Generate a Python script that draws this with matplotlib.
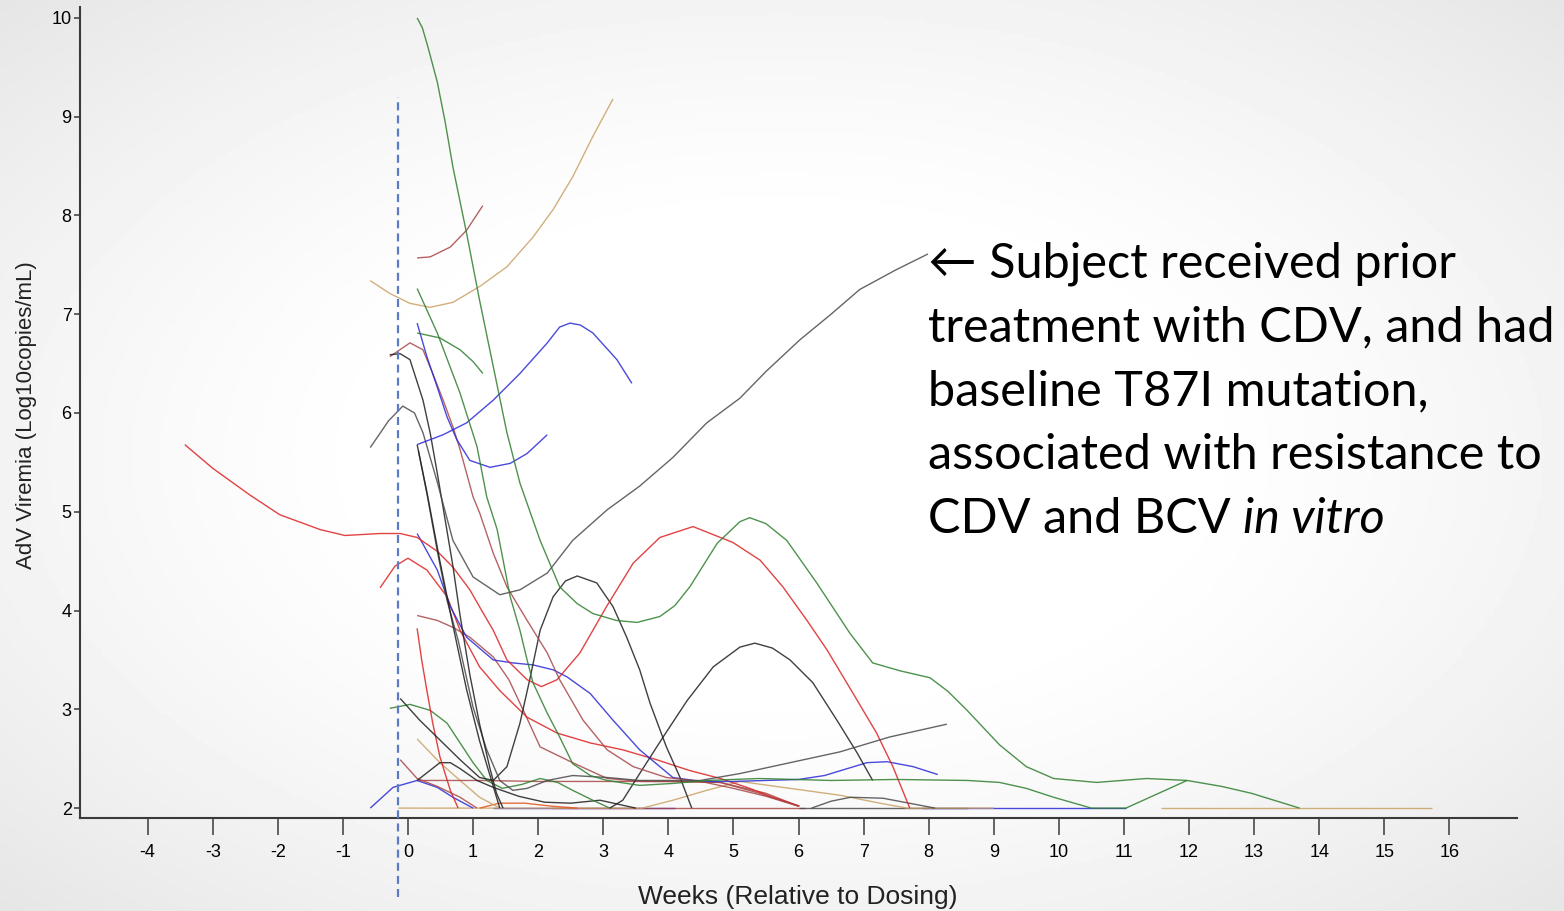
import numpy as np
import matplotlib.pyplot as plt

plt.rcParams.update({'font.family': ['Liberation Sans', 'DejaVu Sans'],
                     'axes.unicode_minus': False})

# line colours (SAS default palette, a bit faded by the thin antialiased lines)
GREEN = '#2f7f2f'
RED = '#dd2222'
BLUE = '#2a2ad6'
BLACK = '#1e1e1e'
GRAY = '#4a4a4a'
BROWN = '#a84848'
TAN = '#c9a266'
ORANGE = '#e0561c'

# viral load per subject: weeks relative to dosing / log10 copies/mL
wk01 = [0.14, 0.22, 0.3, 0.45, 0.57, 0.69, 0.9, 1.1, 1.31, 1.52, 1.72, 2.03, 2.33, 2.6, 2.84, 3.2, 3.52, 3.87, 4.1,
        4.33, 4.75, 5.1, 5.25, 5.5, 5.82, 6.28, 6.79, 7.14, 7.56, 8.02, 8.3, 8.59, 9.09, 9.5, 9.92, 10.58,
        11.35, 11.97, 12.5, 12.96, 13.7]
vl01 = [10.0, 9.9, 9.72, 9.35, 8.95, 8.49, 7.82, 7.14, 6.47, 5.8, 5.29, 4.71, 4.24, 4.07, 3.97, 3.9, 3.88, 3.94, 4.05,
        4.24, 4.68, 4.9, 4.94, 4.88, 4.71, 4.28, 3.77, 3.47, 3.39, 3.32, 3.18, 2.99, 2.64, 2.42, 2.3, 2.26,
        2.3, 2.28, 2.22, 2.15, 2.0]

wk02 = [0.14, 0.45, 0.8, 1.06, 1.21, 1.37, 1.57, 1.72, 1.83, 1.92, 2.14, 2.33, 2.53, 2.8, 3.06, 3.56, 4.07,
        4.59, 5.4, 6.5, 7.5, 8.6, 9.09, 9.5, 9.92, 10.5, 11.03, 11.5, 11.97]
vl02 = [7.26, 6.81, 6.2, 5.66, 5.15, 4.82, 4.14, 3.8, 3.5, 3.27, 2.96, 2.72, 2.45, 2.33, 2.28, 2.23, 2.25,
        2.28, 2.3, 2.28, 2.29, 2.28, 2.26, 2.2, 2.11, 2.0, 2.0, 2.14, 2.28]

wk03 = [0.14, 0.49, 0.8, 1.0, 1.15]
vl03 = [6.81, 6.76, 6.64, 6.52, 6.4]

wk04 = [-0.28, 0.03, 0.34, 0.6, 0.8, 1.0, 1.21, 1.45, 1.75, 2.03, 2.3, 2.53, 2.84, 3.1]
vl04 = [3.01, 3.05, 2.99, 2.86, 2.66, 2.46, 2.28, 2.2, 2.24, 2.3, 2.26, 2.18, 2.08, 2.0]

wk05 = [0.14, 0.34, 0.65, 0.9, 1.15]
vl05 = [7.57, 7.58, 7.68, 7.85, 8.1]

wk06 = [-0.58, -0.28, 0.03, 0.34, 0.69, 1.1, 1.52, 1.92, 2.23, 2.53, 2.84, 3.15]
vl06 = [7.34, 7.21, 7.11, 7.07, 7.12, 7.28, 7.48, 7.78, 8.06, 8.39, 8.8, 9.18]

wk07 = [0.14, 0.29, 0.45, 0.6, 0.75, 0.95, 1.26, 1.57, 1.83, 2.14]
vl07 = [6.91, 6.57, 6.26, 5.96, 5.73, 5.52, 5.45, 5.49, 5.59, 5.78]

wk08 = [0.14, 0.54, 0.9, 1.31, 1.72, 2.14, 2.33, 2.49, 2.65, 2.84, 3.21, 3.44]
vl08 = [5.68, 5.78, 5.9, 6.13, 6.4, 6.71, 6.87, 6.91, 6.89, 6.81, 6.54, 6.3]

wk09 = [-0.28, -0.12, 0.03, 0.23, 0.34, 0.45, 0.55, 0.69, 0.8, 0.95, 1.1, 1.26, 1.36, 1.46]
vl09 = [6.59, 6.6, 6.54, 6.13, 5.8, 5.39, 5.0, 4.45, 3.95, 3.35, 2.85, 2.4, 2.15, 2.0]

# subject with prior CDV treatment (T87I)
wk10 = [-0.58, -0.3, -0.08, 0.1, 0.23, 0.45, 0.69, 1.0, 1.41, 1.72, 2.14, 2.53, 3.06, 3.56, 4.07, 4.59,
        5.1, 5.5, 6.02, 6.5, 6.94, 7.5, 7.99]
vl10 = [5.65, 5.92, 6.07, 6.0, 5.8, 5.3, 4.71, 4.34, 4.16, 4.21, 4.38, 4.71, 5.02, 5.26, 5.55, 5.9,
        6.15, 6.42, 6.74, 7.0, 7.25, 7.45, 7.61]

wk11 = [0.14, 0.29, 0.49, 0.69, 0.9, 1.1, 1.26, 1.41]
vl11 = [5.68, 5.2, 4.5, 3.85, 3.2, 2.68, 2.33, 2.0]

wk12 = [0.16, 0.3, 0.45, 0.6, 0.77, 1.0, 1.21, 1.41, 1.61, 1.83, 2.14, 2.53, 3.06, 3.56, 4.49, 5.1, 5.87,
        6.64, 7.4, 8.28]
vl12 = [5.62, 5.15, 4.6, 4.1, 3.7, 3.02, 2.59, 2.28, 2.18, 2.2, 2.28, 2.33, 2.31, 2.28, 2.28, 2.35, 2.46,
        2.57, 2.72, 2.85]

wk13 = [-0.28, 0.03, 0.23, 0.38, 0.54, 0.69, 0.8, 0.9, 1.0, 1.1, 1.31, 1.52, 1.83, 2.14, 2.33, 2.69, 3.06,
        3.46, 3.97, 4.5, 5.0, 5.5, 6.0]
vl13 = [6.57, 6.71, 6.64, 6.4, 6.13, 5.86, 5.63, 5.39, 5.15, 4.99, 4.58, 4.24, 3.9, 3.57, 3.3, 2.89, 2.59,
        2.42, 2.31, 2.27, 2.2, 2.12, 2.02]

wk14 = [-3.43, -3.0, -2.43, -1.97, -1.35, -0.97, -0.43, -0.12, 0.14, 0.45, 0.69, 0.95, 1.15, 1.31, 1.52,
        1.83, 2.05, 2.29, 2.64, 3.05, 3.46, 3.87, 4.38, 4.99, 5.41, 5.76, 6.13, 6.44, 6.84, 7.2, 7.45, 7.71]
vl14 = [5.68, 5.44, 5.17, 4.97, 4.82, 4.76, 4.78, 4.78, 4.74, 4.6, 4.44, 4.21, 3.98, 3.8, 3.5,
        3.3, 3.23, 3.3, 3.57, 4.04, 4.48, 4.74, 4.85, 4.69, 4.51, 4.24, 3.9, 3.6, 3.16, 2.76, 2.42, 2.0]

wk15 = [-0.43, -0.2, 0.0, 0.29, 0.6, 0.8, 1.1, 1.41, 1.83, 2.29, 2.8, 3.3, 3.82, 4.33, 4.8, 5.25, 5.6, 6.02]
vl15 = [4.23, 4.45, 4.53, 4.41, 4.14, 3.8, 3.43, 3.19, 2.92, 2.76, 2.66, 2.59, 2.49, 2.38, 2.3, 2.2, 2.11, 2.02]

wk16 = [0.14, 0.45, 0.65, 0.9, 1.31, 1.61, 1.92, 2.23, 2.44, 2.8, 3.15, 3.56, 4.07, 4.5, 5.0, 5.5, 6.0,
        6.4, 6.75, 7.05, 7.36, 7.76, 8.14]
vl16 = [4.78, 4.41, 4.04, 3.73, 3.5, 3.47, 3.45, 3.4, 3.33, 3.16, 2.89, 2.59, 2.31, 2.27, 2.27, 2.28, 2.29,
        2.33, 2.4, 2.46, 2.47, 2.42, 2.34]

wk17 = [0.14, 0.45, 0.69, 0.95, 1.31, 1.55, 1.8, 2.03, 2.53, 3.06, 3.6, 4.2, 4.8, 5.4, 6.0]
vl17 = [3.95, 3.9, 3.83, 3.73, 3.53, 3.3, 2.95, 2.62, 2.46, 2.3, 2.27, 2.27, 2.26, 2.15, 2.02]

wk18 = [0.14, 0.21, 0.29, 0.38, 0.49, 0.65, 0.77]
vl18 = [3.82, 3.5, 3.19, 2.86, 2.52, 2.18, 2.0]

wk19 = [-0.12, 0.18, 0.49, 0.8, 1.1, 1.31, 1.52, 1.72, 1.87, 2.03, 2.23, 2.42, 2.6, 2.9, 3.15, 3.36, 3.56, 3.72,
        3.97, 4.18, 4.36]
vl19 = [3.11, 2.89, 2.69, 2.49, 2.31, 2.28, 2.42, 2.86, 3.3, 3.8, 4.14, 4.3, 4.35, 4.28, 4.04, 3.73, 3.4, 3.06,
        2.62, 2.31, 2.0]

wk20 = [3.1, 3.3, 3.56, 3.92, 4.29, 4.69, 5.1, 5.33, 5.6, 5.87, 6.22, 6.59, 6.9, 7.14]
vl20 = [2.0, 2.08, 2.35, 2.72, 3.09, 3.43, 3.63, 3.67, 3.62, 3.5, 3.27, 2.89, 2.56, 2.28]

wk21 = [6.2, 6.5, 6.8, 7.3, 7.7, 8.1]
vl21 = [2.0, 2.07, 2.11, 2.1, 2.05, 2.0]

wk22 = [0.14, 0.49, 0.8, 1.1, 1.41]
vl22 = [2.7, 2.46, 2.28, 2.11, 2.0]

wk23 = [-0.15, 1.0, 2.0, 3.0, 3.6, 4.07, 4.59, 5.1, 5.87, 6.64, 7.25, 7.67, 8.5, 9.0]
vl23 = [2.0, 2.0, 2.0, 2.0, 2.0, 2.08, 2.18, 2.27, 2.2, 2.13, 2.05, 2.0, 2.0, 2.0]

wk24 = [-0.12, 0.14, 0.45, 0.8, 1.06]
vl24 = [2.49, 2.3, 2.22, 2.11, 2.0]

wk25 = [0.14, 1.1, 2.0, 3.0, 4.0, 4.8, 5.5, 6.0]
vl25 = [2.28, 2.28, 2.27, 2.27, 2.27, 2.26, 2.15, 2.02]

wk26 = [-0.58, -0.23, 0.14, 0.45, 0.69, 1.0]
vl26 = [2.0, 2.21, 2.28, 2.21, 2.11, 2.0]

wk27 = [0.14, 0.49, 0.65, 0.8, 1.06, 1.31, 1.7, 2.1, 2.5, 2.95, 3.5]
vl27 = [2.28, 2.46, 2.46, 2.4, 2.28, 2.21, 2.12, 2.06, 2.05, 2.08, 2.0]

wk28 = [1.1, 1.4, 1.8, 2.2, 2.6]
vl28 = [2.0, 2.05, 2.05, 2.02, 2.0]

# subjects sitting at the lower limit (2.0) for a stretch
wk29 = [1.3, 4.1]
vl29 = [2.0, 2.0]
wk30 = [2.2, 6.1]
vl30 = [2.0, 2.0]
wk31 = [7.9, 11.03]
vl31 = [2.0, 2.0]
wk32 = [6.0, 8.6]
vl32 = [2.0, 2.0]
wk33 = [11.57, 15.73]
vl33 = [2.0, 2.0]

subjects = [
    (wk29, vl29, BLUE), (wk30, vl30, BROWN), (wk31, vl31, BLUE), (wk32, vl32, GRAY), (wk33, vl33, TAN),
    (wk23, vl23, TAN), (wk28, vl28, ORANGE), (wk26, vl26, BLUE), (wk24, vl24, BROWN), (wk22, vl22, TAN),
    (wk25, vl25, BROWN), (wk27, vl27, BLACK), (wk21, vl21, GRAY), (wk04, vl04, GREEN), (wk18, vl18, RED),
    (wk17, vl17, BROWN), (wk15, vl15, RED), (wk16, vl16, BLUE), (wk19, vl19, BLACK), (wk20, vl20, BLACK),
    (wk14, vl14, RED), (wk13, vl13, BROWN), (wk12, vl12, GRAY), (wk11, vl11, BLACK), (wk09, vl09, BLACK),
    (wk10, vl10, GRAY), (wk08, vl08, BLUE), (wk07, vl07, BLUE), (wk06, vl06, TAN), (wk05, vl05, BROWN),
    (wk03, vl03, GREEN), (wk02, vl02, GREEN), (wk01, vl01, GREEN),
]

dosing_week = -0.15
xticks = list(range(-4, 17))
yticks = list(range(2, 11))

fig = plt.figure(figsize=(15.64, 9.11), dpi=100)

# soft slide background: white in the middle, light grey towards the edges
bg = fig.add_axes([0, 0, 1, 1], zorder=-10)
gx, gy = np.meshgrid(np.linspace(-1, 1, 400), np.linspace(-1, 1, 240))
r = np.sqrt(gx ** 2 + gy ** 2) / np.sqrt(2)
shade = 1 - 0.10 * np.clip((r - 0.35) / 0.65, 0, 1) ** 1.3
bg.imshow(shade, cmap='gray', vmin=0, vmax=1, aspect='auto', extent=[0, 1, 0, 1])
bg.axis('off')

ax = fig.add_axes([80 / 1564, 1 - 818 / 911, (1517 - 80) / 1564, (818 - 7) / 911])
ax.set_facecolor('none')

for wk, vl, col in subjects:
    ax.plot(wk, vl, color=col, lw=1.0, alpha=0.85, solid_joinstyle='round', solid_capstyle='butt')

ax.plot([dosing_week, dosing_week], [1.1, 9.2], color='#5b7bc4', lw=1.6,
        ls=(0, (3.6, 2.3)), clip_on=False, zorder=5)

ax.set_xlim(-5.04, 17.04)
ax.set_ylim(1.9, 10.11)
ax.set_xticks(xticks)
ax.set_yticks(yticks)
ax.tick_params(axis='x', length=12, width=1.1, color='#3a3a3a', pad=7, labelsize=13)
ax.tick_params(axis='y', length=4, width=1.1, color='#3a3a3a', pad=2, labelsize=13)
for side in ['top', 'right']:
    ax.spines[side].set_visible(False)
for side in ['left', 'bottom']:
    ax.spines[side].set_color('#3a3a3a')
    ax.spines[side].set_linewidth(1.5)

fig.text(798 / 1564, 1 - 897 / 911, 'Weeks (Relative to Dosing)', ha='center', va='center',
         fontsize=19, color='#222222')
fig.text(27 / 1564, 1 - 415 / 911, 'AdV Viremia (Log10copies/mL)', ha='center', va='center',
         rotation=90, fontsize=16, color='#222222')

# call-out for the CDV-experienced subject
note_font = ['Lato', 'DejaVu Sans']
note_size = 35
note_lines = ['\u2190 Subject received prior', 'treatment with CDV, and had', 'baseline T87I mutation,',
              'associated with resistance to']
base_y = [277, 341, 405, 469]
for txt, yb in zip(note_lines, base_y):
    fig.text(928 / 1564, 1 - yb / 911, txt, family=note_font, fontsize=note_size, va='baseline', ha='left')
t5 = fig.text(928 / 1564, 1 - 533 / 911, 'CDV and BCV ', family=note_font, fontsize=note_size,
              va='baseline', ha='left')
fig.canvas.draw()
bb = t5.get_window_extent()
fig.text(bb.x1 / fig.bbox.width, 1 - 533 / 911, 'in vitro', family=note_font, fontsize=note_size,
         style='italic', va='baseline', ha='left')

fig.savefig('out.png', dpi=100)
